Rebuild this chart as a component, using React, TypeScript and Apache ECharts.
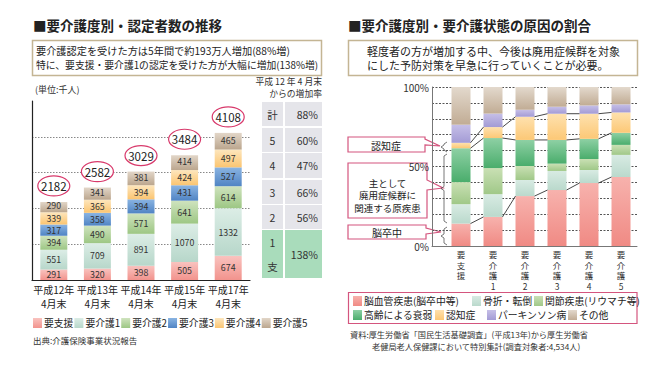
import React, { useEffect, useRef } from 'react';
import * as echarts from 'echarts';

const FONT = '"Noto Sans CJK JP", "Noto Sans", sans-serif';

// ---------- Left chart data ----------
const leftCategories = ['平成12年\n4月末', '平成13年\n4月末', '平成14年\n4月末', '平成15年\n4月末', '平成17年\n4月末'];
const leftSeriesNames = ['要支援', '要介護1', '要介護2', '要介護3', '要介護4', '要介護5'];
const youShien = [291, 320, 398, 505, 674];
const kaigo1 = [551, 709, 891, 1070, 1332];
const kaigo2 = [394, 490, 571, 641, 614];
const kaigo3 = [317, 358, 394, 431, 527];
const kaigo4 = [339, 365, 394, 424, 497];
const kaigo5 = [290, 341, 381, 414, 465];
const leftTotals = [2182, 2582, 3029, 3484, 4108];
const leftYMax = 5000;
const leftYInterval = 1000;

// growth-rate table
const tableLabels = ['計', '5', '4', '3', '2', '1\n\n支'];
const tableRates = ['88%', '60%', '47%', '66%', '56%', '138%'];

// ---------- Right chart data ----------
const rightCategories = ['要\n支\n援', '要\n介\n護\n1', '要\n介\n護\n2', '要\n介\n護\n3', '要\n介\n護\n4', '要\n介\n護\n5'];
const rightSeriesNames = ['脳血管疾患(脳卒中等)', '骨折・転倒', '関節疾患(リウマチ等)', '高齢による衰弱', '認知症', 'パーキンソン病', 'その他'];
const cerebro = [14.1, 18.3, 31.4, 35.2, 39.6, 43.4];
const fracture = [12.2, 14.3, 10.1, 12.0, 8.2, 13.9];
const joint = [13.9, 16.4, 8.8, 4.6, 6.9, 6.3];
const frailty = [21.3, 18.9, 16.4, 14.9, 12.7, 7.6];
const dementia = [3.4, 6.9, 14.6, 16.5, 15.8, 12.8];
const parkinson = [11.4, 8.5, 4.4, 4.4, 5.2, 5.1];
const other = [23.7, 16.7, 14.3, 12.4, 11.6, 10.9];
const rightYTickLabels = [0, 50, 100];

const leftColors = [
  ['#f9c3bf', '#f2938d'],
  ['#dcede6', '#b7d7ca'],
  ['#cfe3be', '#9dc784'],
  ['#8ab4e2', '#5084c4'],
  ['#fde6bd', '#fbc571'],
  ['#e2d6c8', '#bba68e'],
];
const rightColors = [
  ['#f7b2ad', '#f08a84'],
  ['#d8ebe3', '#bad9cc'],
  ['#c9e0b4', '#a0c888'],
  ['#8ed0a4', '#4aad6c'],
  ['#fee1ae', '#fcc876'],
  ['#c6bfe7', '#a39bd5'],
  ['#e3d9cd', '#c1ac94'],
];

const grad = (c: string[]) =>
  new echarts.graphic.LinearGradient(0, 0, 0, 1, [
    { offset: 0, color: c[0] },
    { offset: 1, color: c[1] },
  ]);

const txt = (text: string, x: number, y: number, opts: any = {}) => ({
  type: 'text',
  silent: true,
  style: {
    text,
    x,
    y,
    fontFamily: FONT,
    fontSize: opts.fontSize ?? 10,
    fontWeight: opts.fontWeight ?? 'normal',
    fill: opts.fill ?? '#222',
    align: opts.align ?? 'left',
    textAlign: opts.align ?? 'left',
    verticalAlign: 'middle',
    textVerticalAlign: 'middle',
    lineHeight: opts.lineHeight,
  },
});

export default function App() {
  const ref = useRef<HTMLDivElement>(null);

  useEffect(() => {
    if (!ref.current) return;
    const chart = echarts.init(ref.current, undefined, { renderer: 'svg' });

    const leftData = [youShien, kaigo1, kaigo2, kaigo3, kaigo4, kaigo5];
    const rightData = [cerebro, fracture, joint, frailty, dementia, parkinson, other];

    const cumulative = (n: number) =>
      cerebro.map((_, i) => rightData.slice(0, n).reduce((s, arr) => s + arr[i], 0));
    const levels = [cumulative(1), cumulative(4), cumulative(5)];
    const linkData: number[][] = [];
    levels.forEach((lv) => {
      for (let i = 0; i < lv.length - 1; i++) linkData.push([i, lv[i], lv[i + 1]]);
    });

    const leftSeries = leftData.map((d, k) => ({
      type: 'bar',
      name: leftSeriesNames[k],
      stack: 'left',
      xAxisIndex: 0,
      yAxisIndex: 0,
      barWidth: 27,
      data: d,
      itemStyle: { color: grad(leftColors[k]) },
      label: {
        show: true,
        position: 'inside',
        offset: [0, k === 5 ? -1.2 : 0],
        fontSize: 8.8,
        lineHeight: 9,
        color: '#333',
        fontFamily: FONT,
      },
      emphasis: { disabled: true },
    }));

    const rightSeries = rightData.map((d, k) => ({
      type: 'bar',
      name: rightSeriesNames[k],
      stack: 'right',
      xAxisIndex: 2,
      yAxisIndex: 2,
      barWidth: 19,
      data: d,
      itemStyle: { color: grad(rightColors[k]) },
      emphasis: { disabled: true },
    }));

    const totalsSeries = {
      type: 'custom',
      xAxisIndex: 0,
      yAxisIndex: 0,
      z: 5,
      data: leftTotals.map((t, i) => [i, t]),
      encode: { x: 0, y: 1 },
      renderItem: (_p: any, api: any) => {
        const c = api.coord([api.value(0), api.value(1)]);
        const cy = c[1] - 16;
        return {
          type: 'group',
          children: [
            { type: 'ellipse', shape: { cx: c[0], cy, rx: 16, ry: 10 }, style: { fill: '#fff', stroke: '#d8396b', lineWidth: 1.2 } },
            {
              type: 'text',
              style: {
                text: String(api.value(1)),
                x: c[0],
                y: cy,
                align: 'center',
                verticalAlign: 'middle',
                fontSize: 11.5,
                fontFamily: FONT,
                fill: '#222',
              },
            },
          ],
        };
      },
    };

    const linksSeries = {
      type: 'custom',
      xAxisIndex: 2,
      yAxisIndex: 2,
      z: 5,
      data: linkData,
      encode: { x: 0, y: 1 },
      renderItem: (_p: any, api: any) => {
        const i = api.value(0);
        const a = api.coord([i, api.value(1)]);
        const b = api.coord([i + 1, api.value(2)]);
        const hw = 9.5;
        return {
          type: 'line',
          shape: { x1: a[0] + hw, y1: a[1], x2: b[0] - hw, y2: b[1] },
          style: { stroke: '#333', lineWidth: 0.9 },
        };
      },
    };

    // right legends (individual positions)
    const rightLegendPos = [
      [353, 296], [472, 296], [534, 296],
      [353, 310], [435, 310], [487, 310], [568, 310],
    ];
    const rightLegends = rightSeriesNames.map((n, k) => ({
      data: [n],
      left: rightLegendPos[k][0],
      top: rightLegendPos[k][1],
      padding: 0,
      itemWidth: 9,
      itemHeight: 10,
      icon: 'rect',
      selectedMode: false,
      textStyle: { fontSize: 9.8, lineHeight: 10, color: '#222', fontFamily: FONT, padding: [0, 0, 0, -3] },
    }));

    // table graphics
    const rowY = [[102, 126], [128, 152], [153, 178], [180, 204], [205, 229], [230, 278]];
    const tableEls: any[] = [];
    rowY.forEach(([y0, y1], r) => {
      const green = r === rowY.length - 1;
      const fill = green ? '#a9dcbb' : '#e5e5ea';
      tableEls.push({ type: 'rect', silent: true, shape: { x: 262, y: y0, width: 21, height: y1 - y0 }, style: { fill } });
      tableEls.push({ type: 'rect', silent: true, shape: { x: 285, y: y0, width: 37, height: y1 - y0 }, style: { fill } });
      tableEls.push(txt(tableLabels[r], 272.5, (y0 + y1) / 2, { align: 'center', fontSize: 10.5, fill: '#333', lineHeight: 12 }));
      tableEls.push(txt(tableRates[r], 318, (y0 + y1) / 2, { align: 'right', fontSize: 10.5, fill: '#333' }));
    });

    const pink = '#d4557e';
    const brace = (x: number, top: number, bot: number) => {
      const mid = (top + bot) / 2;
      return {
        type: 'polyline',
        silent: true,
        shape: {
          points: [
            [x + 3, top], [x, top + 2], [x, mid - 2], [x - 3, mid], [x, mid + 2], [x, bot - 2], [x + 3, bot],
          ],
        },
        style: { stroke: '#555', lineWidth: 0.8, fill: null },
      };
    };

    const graphics: any[] = [
      // Left panel
      txt('■要介護度別・認定者数の推移', 33, 25, { fontSize: 13.5, fontWeight: 'bold', fill: '#222' }),
      { type: 'rect', silent: true, shape: { x: 32.5, y: 40.5, width: 289, height: 35 }, style: { fill: '#fff', stroke: '#c4b594', lineWidth: 1.5 } },
      txt('要介護認定を受けた方は5年間で約193万人増加(88%増)', 36, 50.5, { fontSize: 10.2 }),
      txt('特に、要支援・要介護1の認定を受けた方が大幅に増加(138%増)', 36, 65, { fontSize: 9.8 }),
      txt('(単位:千人)', 35, 89, { fontSize: 9, fill: '#333' }),
      txt('平成 12 年 4 月末', 322, 81.5, { fontSize: 8.8, align: 'right', fill: '#333' }),
      txt('からの増加率', 322, 93.5, { fontSize: 8.8, align: 'right', fill: '#333' }),
      ...tableEls,
      txt('出典:介護保険事業状況報告', 33, 340, { fontSize: 8.5, fill: '#333' }),

      // Right panel
      txt('■要介護度別・要介護状態の原因の割合', 348, 25, { fontSize: 13.5, fontWeight: 'bold', fill: '#222' }),
      { type: 'rect', silent: true, shape: { x: 348.5, y: 40.5, width: 289, height: 35 }, style: { fill: '#fff', stroke: '#c4b594', lineWidth: 1.5 } },
      txt('軽度者の方が増加する中、今後は廃用症候群を対象', 367, 50.5, { fontSize: 11 }),
      txt('にした予防対策を早急に行っていくことが必要。', 367, 65, { fontSize: 11 }),

      {
        type: 'polygon', silent: true,
        shape: { points: [[348, 137], [425, 137], [425, 139], [440, 146], [425, 145], [425, 152], [348, 152]] },
        style: { fill: '#fff', stroke: pink, lineWidth: 1.2 },
      },
      txt('認知症', 386, 145, { fontSize: 10, align: 'center' }),
      {
        type: 'polygon', silent: true,
        shape: { points: [[348, 163], [427, 163], [427, 180], [443, 188], [427, 190], [427, 218], [348, 218]] },
        style: { fill: '#fff', stroke: pink, lineWidth: 1.2 },
      },
      txt('主として\n廃用症候群に\n関連する原疾患', 387.5, 195, { fontSize: 9.5, align: 'center', lineHeight: 12.5 }),
      {
        type: 'polygon', silent: true,
        shape: { points: [[348, 225], [426, 225], [426, 228], [441, 232], [426, 234], [426, 239], [348, 239]] },
        style: { fill: '#fff', stroke: pink, lineWidth: 1.2 },
      },
      txt('脳卒中', 387, 232, { fontSize: 10, align: 'center' }),
      brace(444, 142, 152),
      brace(444, 154, 223),
      brace(444, 227, 245),

      { type: 'rect', silent: true, shape: { x: 348.5, y: 292.5, width: 288.5, height: 31 }, style: { fill: null, stroke: pink, lineWidth: 1.2 } },
      txt('資料:厚生労働省「国民生活基礎調査」(平成13年)から厚生労働省', 350, 334, { fontSize: 8.2, fill: '#333' }),
      txt('老健局老人保健課において特別集計(調査対象者:4,534人)', 372, 346, { fontSize: 8.2, fill: '#333' }),
    ];

    const option: any = {
      animation: false,
      textStyle: { fontFamily: FONT },
      grid: [
        { left: 32, right: 419, top: 101, bottom: 90 },
        { left: 432, right: 32, top: 87, bottom: 124 },
        { left: 445, right: 32, top: 87, bottom: 124 },
      ],
      xAxis: [
        {
          gridIndex: 0,
          type: 'category',
          data: leftCategories,
          axisLine: { show: true, lineStyle: { color: '#222', width: 1.2 } },
          axisTick: { show: false },
          axisLabel: { interval: 0, fontSize: 10, lineHeight: 14, margin: 2, color: '#222', fontFamily: FONT },
        },
        {
          gridIndex: 1,
          type: 'value',
          min: 0,
          max: 1,
          axisLine: { show: true, lineStyle: { color: '#777', width: 1 } },
          axisTick: { show: false },
          axisLabel: { show: false },
          splitLine: { show: false },
        },
        {
          gridIndex: 2,
          type: 'category',
          data: rightCategories,
          axisLine: { show: false },
          axisTick: { show: false },
          axisLabel: { interval: 0, fontSize: 8.5, lineHeight: 10.5, margin: 3, color: '#333', fontFamily: FONT },
        },
      ],
      yAxis: [
        {
          gridIndex: 0,
          type: 'value',
          min: 0,
          max: leftYMax,
          interval: leftYInterval,
          axisLine: { show: true, lineStyle: { color: '#222', width: 1.2 } },
          axisTick: { show: false },
          axisLabel: { show: false },
          splitLine: { show: true, showMinLine: false, showMaxLine: false, lineStyle: { type: [1.5, 1.5], color: '#888' } },
        },
        {
          gridIndex: 1,
          type: 'value',
          min: 0,
          max: 100,
          interval: 10,
          axisLine: { show: true, lineStyle: { color: '#777', width: 1 } },
          axisTick: { show: false },
          axisLabel: {
            margin: 3,
            fontSize: 10,
            color: '#333',
            fontFamily: FONT,
            formatter: (v: number) => (rightYTickLabels.includes(v) ? v + '%' : ''),
          },
          splitLine: { show: true, showMinLine: false, lineStyle: { type: [2, 1.5], color: '#555' } },
        },
        {
          gridIndex: 2,
          type: 'value',
          min: 0,
          max: 100,
          show: false,
        },
      ],
      legend: [
        {
          data: leftSeriesNames,
          left: 33,
          top: 318,
          padding: 0,
          itemWidth: 9,
          itemHeight: 10,
          itemGap: 1,
          icon: 'rect',
          selectedMode: false,
          textStyle: { fontSize: 9.8, color: '#222', fontFamily: FONT, padding: [0, 0, 0, -3] },
        },
        ...rightLegends,
      ],
      graphic: graphics,
      series: [...leftSeries, totalsSeries, ...rightSeries, linksSeries],
    };

    chart.setOption(option);
    return () => chart.dispose();
  }, []);

  return (
    <div
      ref={ref}
      style={{ position: 'fixed', left: 0, top: 0, width: 669, height: 370, background: '#fff' }}
    />
  );
}
